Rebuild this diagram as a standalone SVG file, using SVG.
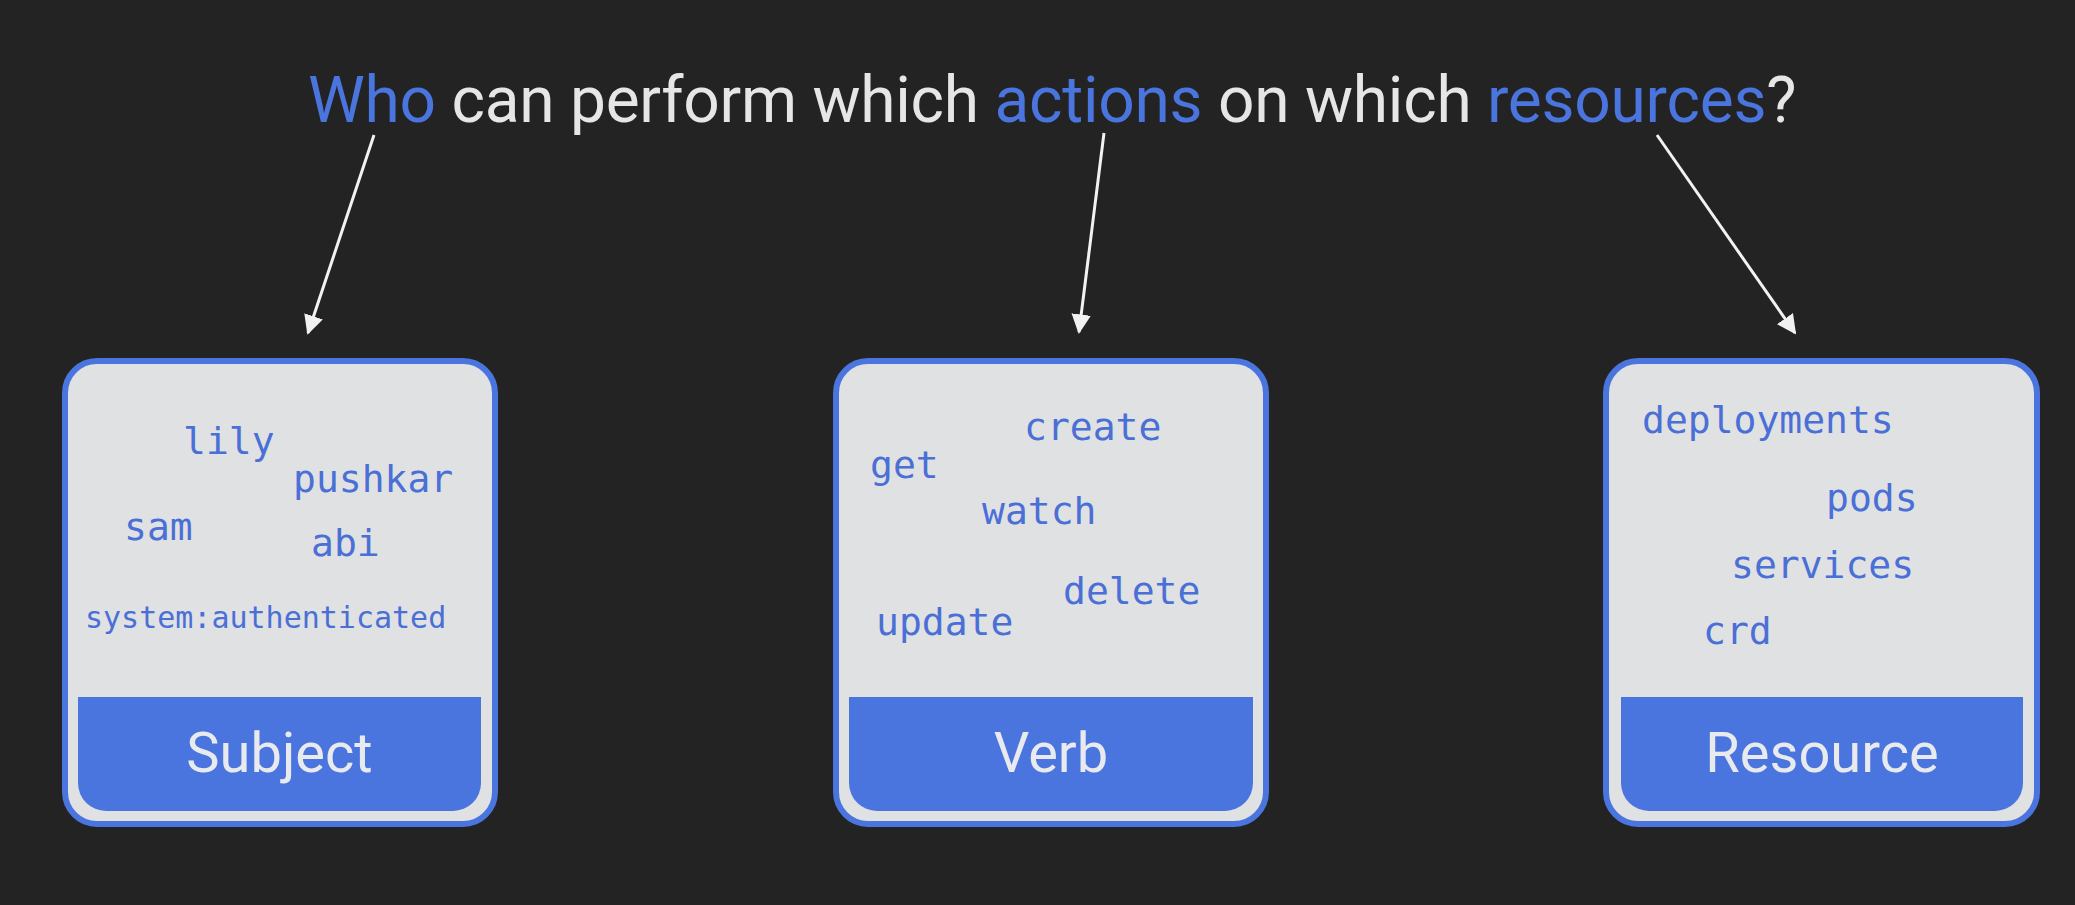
<svg xmlns="http://www.w3.org/2000/svg" width="2075" height="905" viewBox="0 0 2075 905">
<defs>
<style>
.box{fill:#e0e1e3;stroke:#4a74de;stroke-width:6}
.band{fill:#4a74de}
.lbl{font-family:Roboto,"Liberation Sans",sans-serif;font-size:56px;fill:#e9eaee;text-anchor:middle}
.mono{font-family:"DejaVu Sans Mono","Liberation Mono",monospace;font-size:38px;fill:#4a6fd6}
.title{font-family:Roboto,"Liberation Sans",sans-serif;font-size:64px;letter-spacing:-0.25px;fill:#e6e6e6}
.hl{fill:#4a74de}
.arrow{stroke:#f2f2f2;stroke-width:3;fill:none;marker-end:url(#ah)}
</style>
<marker id="ah" viewBox="0 0 10 10" refX="9" refY="5" markerWidth="6.5" markerHeight="6.5" orient="auto" markerUnits="strokeWidth">
<path d="M0,0 L10,5 L0,10 z" fill="#f2f2f2"/>
</marker>
</defs>
<rect width="2075" height="905" fill="#232323"/>
<text class="title" x="308" y="122"><tspan class="hl">Who</tspan> can perform which <tspan class="hl">actions</tspan> on which <tspan class="hl">resources</tspan>?</text>
<g id="connectors">
<line class="arrow" x1="374" y1="135" x2="308" y2="333"/>
<line class="arrow" x1="1104" y1="133" x2="1079" y2="332"/>
<line class="arrow" x1="1657" y1="135" x2="1795" y2="333"/>
</g>
<g id="subject">
<rect class="box" x="65" y="361" width="430" height="463" rx="32"/>
<path class="band" d="M78,697 H481 V783 A28,28 0 0 1 453,811 H106 A28,28 0 0 1 78,783 Z"/>
<text class="lbl" x="279.5" y="772">Subject</text>
<text class="mono" x="183" y="454">lily</text>
<text class="mono" x="293" y="492">pushkar</text>
<text class="mono" x="124" y="540">sam</text>
<text class="mono" x="311" y="556">abi</text>
<text class="mono" x="85" y="628" style="font-size:30px">system:authenticated</text>
</g>
<g id="verb">
<rect class="box" x="836" y="361" width="430" height="463" rx="32"/>
<path class="band" d="M849,697 H1253 V783 A28,28 0 0 1 1225,811 H877 A28,28 0 0 1 849,783 Z"/>
<text class="lbl" x="1051" y="772">Verb</text>
<text class="mono" x="1024" y="440">create</text>
<text class="mono" x="870" y="478">get</text>
<text class="mono" x="982" y="524">watch</text>
<text class="mono" x="1063" y="604">delete</text>
<text class="mono" x="876" y="635">update</text>
</g>
<g id="resource">
<rect class="box" x="1606" y="361" width="431" height="463" rx="32"/>
<path class="band" d="M1621,697 H2023 V783 A28,28 0 0 1 1995,811 H1649 A28,28 0 0 1 1621,783 Z"/>
<text class="lbl" x="1822" y="772">Resource</text>
<text class="mono" x="1642" y="433">deployments</text>
<text class="mono" x="1826" y="511">pods</text>
<text class="mono" x="1731" y="578">services</text>
<text class="mono" x="1703" y="644">crd</text>
</g>
</svg>
